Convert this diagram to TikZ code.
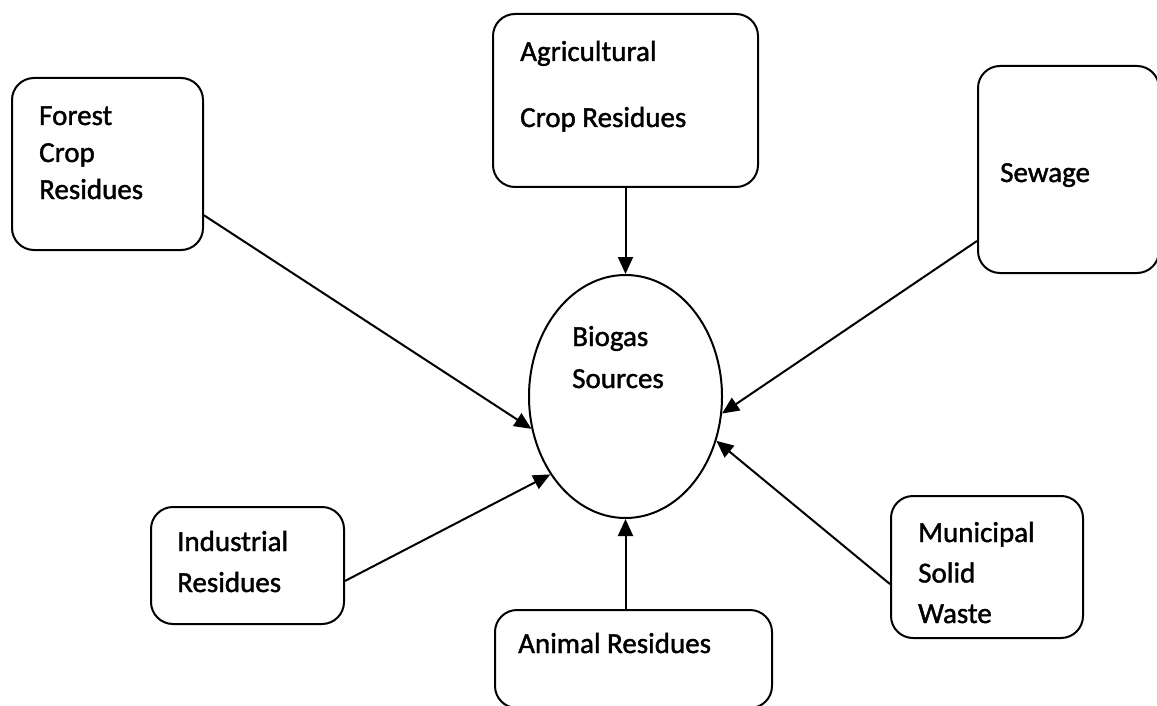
\documentclass[tikz,border=0pt]{standalone}
\usepackage{fontspec}
\setmainfont[FakeBold=1.4]{Carlito}
\usetikzlibrary{arrows.meta,shapes.geometric}
\tikzset{
  srcbox/.style={draw, line width=2pt, rounded corners=22pt, inner sep=0pt},
  lbl/.style={anchor=base west, align=left, inner sep=0pt, font=\fontsize{29}{#1}\selectfont},
  lbl/.default=37,
  arr/.style={line width=2pt, -{Triangle[length=17pt,width=15pt]}},
}
\begin{document}
\begin{tikzpicture}[x=1pt,y=-1pt]
\useasboundingbox[fill=white] (0,0) rectangle (1157,706);
% boxes
\node[srcbox, minimum width=191pt, minimum height=172pt] (forest) at (107.5,164) {};
\node[srcbox, minimum width=265pt, minimum height=173pt] (agri) at (625.5,100.5) {};
\node[srcbox, minimum width=181pt, minimum height=207pt] (sewage) at (1068.5,169.5) {};
\node[srcbox, minimum width=193pt, minimum height=117pt] (indus) at (247.5,565.5) {};
\node[srcbox, minimum width=277pt, minimum height=98pt] (animal) at (633.5,659) {};
\node[srcbox, minimum width=192pt, minimum height=142pt] (muni) at (987,567) {};
\node[draw, ellipse, line width=2pt, minimum width=193pt, minimum height=243pt, inner sep=0pt] (bio) at (625.5,396.5) {};
% labels (anchored at the baseline of the last line)
\node[lbl=37] (tforest) at (39,199) {Forest\\Crop\\Residues};
\node[lbl=66] (tagri) at (520,127) {Agricultural\\Crop Residues};
\node[lbl] (tsewage) at (1000,182) {Sewage};
\node[lbl=42] (tbio) at (572,388) {Biogas\\Sources};
\node[lbl=41] (tindus) at (177,592) {Industrial\\Residues};
\node[lbl] (tanimal) at (518,653) {Animal Residues};
\node[lbl=40.5] (tmuni) at (918,623) {Municipal\\Solid\\Waste};
% connectors
\draw[arr] (forest.-28.1) -- (bio.199);
\draw[arr] (agri.south) -- (bio.north);
\draw[arr] (sewage.218.8) -- (bio.-10.9);
\draw[arr] (indus.-9.7) -- (bio.226.2);
\draw[arr] (bio.south |- animal.north) -- (bio.south);
\draw[arr] (muni.190.6) -- (bio.-26.7);
\end{tikzpicture}
\end{document}
